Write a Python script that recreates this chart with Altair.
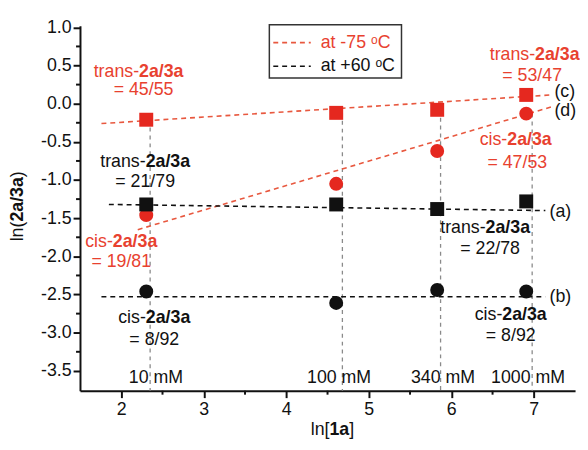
import altair as alt
import pandas as pd

# ---------------- data ----------------
ln_conc = [2.303, 4.605, 5.829, 6.908]            # ln[1a] for 10, 100, 340, 1000 mM
conc_labels = ["10 mM", "100 mM", "340 mM", "1000 mM"]
conc_label_x = [2.42, 4.64, 5.90, 6.93]
conc_label_y = [-3.59, -3.59, -3.59, -3.59]

trans_m75 = [-0.21, -0.12, -0.08, 0.115]   # red squares
cis_m75 = [-1.46, -1.05, -0.62, -0.13]     # red circles
trans_p60 = [-1.32, -1.32, -1.38, -1.28]   # black squares
cis_p60 = [-2.46, -2.61, -2.44, -2.46]     # black circles

guide_x = [2.35, 4.68, 5.87, 6.98]
guide_top = [-0.21, -0.12, -0.08, -0.13]
guide_bottom = [-3.76, -3.76, -3.76, -3.76]

fit_names = ["c", "c", "d", "d", "a", "a", "b", "b"]
fit_temp = ["-75", "-75", "-75", "-75", "+60", "+60", "+60", "+60"]
fit_x = [1.76, 7.22, 2.20, 7.22, 1.85, 7.14, 1.76, 7.14]
fit_y = [-0.26, 0.115, -1.65, -0.04, -1.32, -1.40, -2.53, -2.53]

tag_text = ["(c)", "(d)", "(a)", "(b)"]
tag_x = [7.25, 7.25, 7.19, 7.19]
tag_y = [0.15, -0.10, -1.42, -2.53]

ann_prefix = ["trans-", "trans-", "cis-", "cis-", "trans-", "cis-", "trans-", "cis-"]
ann_ratio = ["= 45/55", "= 21/79", "= 19/81", "= 8/92", "= 53/47", "= 47/53", "= 22/78", "= 8/92"]
ann_temp = ["-75", "+60", "-75", "+60", "-75", "-75", "+60", "+60"]
ann_x1 = [2.21, 2.29, 2.00, 2.40, 7.01, 6.78, 6.41, 6.72]
ann_y1 = [0.41, -0.77, -1.81, -2.81, 0.64, -0.48, -1.63, -2.77]
ann_x2 = [2.27, 2.29, 2.00, 2.40, 6.98, 6.80, 6.47, 6.72]
ann_y2 = [0.18, -1.03, -2.08, -3.09, 0.36, -0.78, -1.91, -3.04]

legend_labels = ["at -75 \u1d52C", "at +60 \u1d52C"]
x_ticks = [2, 3, 4, 5, 6, 7]
x_minor = [2.5, 3.5, 4.5, 5.5, 6.5]
y_ticks = [-3.5, -3.0, -2.5, -2.0, -1.5, -1.0, -0.5, 0.0, 0.5, 1.0]
y_minor = [-3.25, -2.75, -2.25, -1.75, -1.25, -0.75, -0.25, 0.25, 0.75]

# ---------------- styling ----------------
FONT = "Liberation Sans"
FS = 18
W, H = 502, 370
XDOM = [1.5, 7.5]
YDOM = [-3.76, 1.02]
PX_PER_X = W / (XDOM[1] - XDOM[0])
RED = "#e5281f"
RED_LINE = "#e8583f"
RED_TEXT = "#e8412f"
BLACK = "#111111"

REG = {'a': 556, 't': 278, 'r': 333, 'n': 556, 's': 500, '-': 333, 'c': 500,
       'i': 222, 'l': 222, '(': 333, ')': 333, '[': 278, ']': 278}
BOLD = {'2': 556, 'a': 556, '/': 278, '3': 556, '1': 556}


def tw(s, table):
    return sum(table.get(ch, 556) for ch in s) * FS / 1000.0


xscale = alt.Scale(domain=XDOM, nice=False, zero=False)
yscale = alt.Scale(domain=YDOM, nice=False, zero=False)
xaxis = alt.Axis(values=x_ticks, format="d", grid=False, labelFontSize=FS, labelFont=FONT,
                 labelColor=BLACK, tickSize=7, tickWidth=2, tickColor=BLACK, domainColor=BLACK,
                 domainWidth=2, labelPadding=3, labelFlush=False)
yaxis = alt.Axis(values=y_ticks, grid=False, labelFontSize=FS, labelFont=FONT, labelColor=BLACK,
                 tickSize=7, tickWidth=2, tickColor=BLACK, domainColor=BLACK, domainWidth=2,
                 labelPadding=2, labelFlush=False,
                 labelExpr="replace(format(datum.value, '.1f'), '\u2212', '-')")


def X(f):
    return alt.X(f, type="quantitative", scale=xscale, axis=xaxis, title=None)


def Y(f):
    return alt.Y(f, type="quantitative", scale=yscale, axis=yaxis, title=None)


temp_color = alt.Color("temp:N", scale=alt.Scale(domain=["-75", "+60"], range=[RED, BLACK]), legend=None)
text_color = alt.Color("temp:N", scale=alt.Scale(domain=["-75", "+60"], range=[RED_TEXT, BLACK]), legend=None)
line_color = alt.Color("temp:N", scale=alt.Scale(domain=["-75", "+60"], range=[RED_LINE, BLACK]), legend=None)

# ---------------- tables ----------------
guides = pd.DataFrame({"gx": guide_x, "gtop": guide_top, "gbot": guide_bottom})
pts = pd.DataFrame({
    "x": ln_conc * 4,
    "y": trans_m75 + cis_m75 + trans_p60 + cis_p60,
    "temp": ["-75"] * 8 + ["+60"] * 8,
    "shape": (["square"] * 4 + ["circle"] * 4) * 2,
})
fits = pd.DataFrame({"name": fit_names, "temp": fit_temp, "x": fit_x, "y": fit_y})
tags = pd.DataFrame({"t": tag_text, "x": tag_x, "y": tag_y})
conc = pd.DataFrame({"t": conc_labels, "x": conc_label_x, "y": conc_label_y})
bold_w = tw("2a/3a", BOLD)
ann = pd.DataFrame({"prefix": ann_prefix, "ratio": ann_ratio, "temp": ann_temp,
                    "x1": ann_x1, "y1": ann_y1, "x2": ann_x2, "y2": ann_y2})
ann["xs"] = ann["x1"] + ann["prefix"].map(lambda s: (tw(s, REG) - bold_w) / 2) / PX_PER_X
ann["bold"] = "2a/3a"
xm = pd.DataFrame({"mx": x_minor})
ym = pd.DataFrame({"my": y_minor})
one = pd.DataFrame({"k": [0]})

# ---------------- layers ----------------
guide_layer = alt.Chart(guides).mark_rule(color="#8a8a8a", strokeDash=[4, 4], strokeWidth=1.3).encode(
    x=X("gx"), y=Y("gtop"), y2="gbot:Q")
fit_layer = alt.Chart(fits).mark_line(strokeDash=[5, 4], strokeWidth=1.6).encode(
    x=X("x"), y=Y("y"), detail="name:N", color=line_color)
pt_layer = alt.Chart(pts).mark_point(filled=True, opacity=1, size=200).encode(
    x=X("x"), y=Y("y"), color=temp_color,
    shape=alt.Shape("shape:N", scale=alt.Scale(domain=["square", "circle"], range=["square", "circle"]), legend=None))
xminor_layer = alt.Chart(xm).mark_rule(color=BLACK, strokeWidth=2).encode(
    x=X("mx"), y=alt.value(H), y2=alt.value(H + 4))
yminor_layer = alt.Chart(ym).mark_rule(color=BLACK, strokeWidth=2).encode(
    y=Y("my"), x=alt.value(0), x2=alt.value(-4))

txt = dict(font=FONT, fontSize=FS, baseline="middle")
pre_layer = alt.Chart(ann).mark_text(align="right", **txt).encode(
    x=X("xs"), y=Y("y1"), text="prefix:N", color=text_color)
bold_layer = alt.Chart(ann).mark_text(align="left", fontWeight="bold", **txt).encode(
    x=X("xs"), y=Y("y1"), text="bold:N", color=text_color)
ratio_layer = alt.Chart(ann).mark_text(align="center", **txt).encode(
    x=X("x2"), y=Y("y2"), text="ratio:N", color=text_color)
tag_layer = alt.Chart(tags).mark_text(align="left", color=BLACK, **txt).encode(
    x=X("x"), y=Y("y"), text="t:N")
conc_layer = alt.Chart(conc).mark_text(align="center", color=BLACK, **txt).encode(
    x=X("x"), y=Y("y"), text="t:N")

# legend box (drawn by hand)
leg_box = alt.Chart(one).mark_rect(fill="white", stroke="#333333", strokeWidth=1.5).encode(
    x=alt.value(192), x2=alt.value(326), y=alt.value(-1), y2=alt.value(53))
leg_r1 = alt.Chart(one).mark_rule(color=RED_LINE, strokeDash=[5, 4], strokeWidth=1.6).encode(
    x=alt.value(196), x2=alt.value(234), y=alt.value(17))
leg_r2 = alt.Chart(one).mark_rule(color=BLACK, strokeDash=[5, 4], strokeWidth=1.6).encode(
    x=alt.value(196), x2=alt.value(234), y=alt.value(41))
leg_t1 = alt.Chart(one).mark_text(align="left", color=RED_TEXT, **txt).encode(
    x=alt.value(244), y=alt.value(17), text=alt.value(legend_labels[0]))
leg_t2 = alt.Chart(one).mark_text(align="left", color=BLACK, **txt).encode(
    x=alt.value(244), y=alt.value(41), text=alt.value(legend_labels[1]))

# axis titles with bold parts
ycx, ycy = -63, 183
y_parts = [("ln(", False), ("2a/3a", True), (")", False)]
y_total = sum(tw(s, BOLD if b else REG) for s, b in y_parts)
ytitle_layers = []
pos = ycy + y_total / 2
for s, b in y_parts:
    ytitle_layers.append(alt.Chart(one).mark_text(
        align="left", angle=270, color=BLACK, fontWeight="bold" if b else "normal", **txt).encode(
        x=alt.value(ycx), y=alt.value(pos), text=alt.value(s)))
    pos -= tw(s, BOLD if b else REG)

xcx, xcy = 256, 410
x_parts = [("ln[", False), ("1a", True), ("]", False)]
x_total = sum(tw(s, BOLD if b else REG) for s, b in x_parts)
xtitle_layers = []
pos = xcx - x_total / 2
for s, b in x_parts:
    xtitle_layers.append(alt.Chart(one).mark_text(
        align="left", color=BLACK, fontWeight="bold" if b else "normal", **txt).encode(
        x=alt.value(pos), y=alt.value(xcy), text=alt.value(s)))
    pos += tw(s, BOLD if b else REG)

chart = alt.layer(
    guide_layer, fit_layer, pt_layer, xminor_layer, yminor_layer,
    pre_layer, bold_layer, ratio_layer, tag_layer, conc_layer,
    leg_box, leg_r1, leg_r2, leg_t1, leg_t2,
    *ytitle_layers, *xtitle_layers,
).resolve_scale(color="independent").properties(
    width=W, height=H,
    autosize=alt.AutoSizeParams(type="none"),
    padding={"left": 73, "top": 15, "right": 5, "bottom": 55},
    background="white",
).configure_view(stroke=None)

chart.save("out.html", embed_options={"renderer": "svg", "actions": False})
